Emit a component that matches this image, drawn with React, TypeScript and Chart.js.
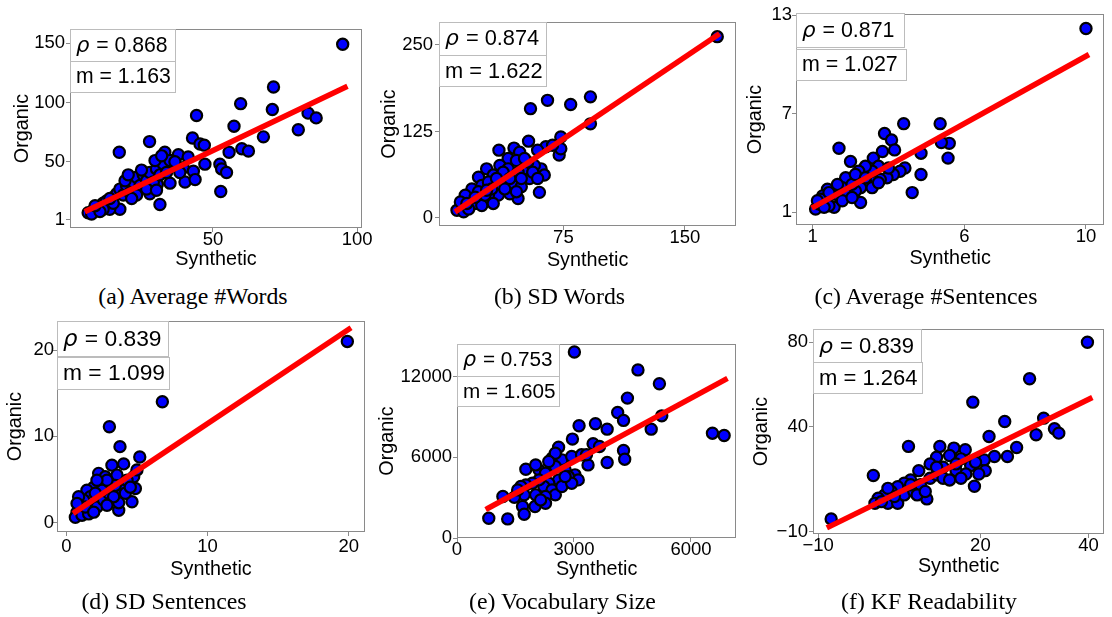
import React, { useEffect, useRef } from 'react';
import { Chart, registerables } from 'chart.js';

Chart.register(...registerables);

// ---------- DATA (Synthetic x, Organic y) ----------
// (a) Average #Words
const avgWordsPoints: number[][] = [
  [95, 149], [71, 113], [59.6, 99], [70.6, 94], [83, 91], [85.8, 87], [79.6, 77], [44.3, 89], [57.3, 80],
  [67.5, 71], [42.9, 70], [28, 67], [45.5, 65], [47, 64], [17.5, 58], [55.6, 58], [60, 61], [62.3, 59],
  [33.3, 58], [38, 56], [41.4, 54], [35.6, 51], [31.6, 50], [33.9, 47], [47.2, 48], [52.4, 48], [53, 44],
  [54.7, 41], [39.7, 45], [43.2, 42], [40.3, 33], [43.8, 35], [35.1, 32], [30.7, 31], [28.1, 23], [52.7, 25],
  [31.6, 14], [17.7, 10], [6.7, 7], [8.4, 9], [10.2, 12], [11.9, 15], [13.1, 17], [14.2, 10], [15.4, 20],
  [16.6, 23], [17.7, 27], [18.9, 22], [20, 30], [21.2, 24], [22.3, 33], [23.5, 37], [24.7, 30], [25.8, 39],
  [27, 34], [28.1, 41], [29.3, 33], [30.4, 44], [31.6, 39], [32.8, 48], [33.9, 41], [35.1, 51], [23.5, 22],
  [27, 27], [15.4, 15], [11.9, 10], [19.5, 34], [25.2, 43], [29.9, 51], [32.2, 55], [36.8, 50], [38.5, 41],
  [30.4, 26], [21.8, 19], [7.9, 6], [10.8, 8], [9.1, 13], [20.6, 39], [14.2, 19],
];
const avgWordsFit: number[][] = [[6.4, 8.9], [95.8, 112.6]];
const avgWordsXTicks = [50, 100];
const avgWordsYTicks = [1, 50, 100, 150];

// (b) SD Words
const sdWordsPoints: number[][] = [
  [170, 262], [54.7, 158], [65.2, 170], [79.5, 164], [91.7, 175], [91.7, 136], [73.4, 117], [72.4, 91],
  [73.4, 100], [53.5, 111], [64.2, 103], [68.3, 105], [35.2, 98], [44.5, 101], [48, 95], [40.9, 86],
  [59.1, 98], [61.2, 71], [63.2, 62], [60.2, 37], [47, 28], [27.6, 71], [31.7, 62], [35.8, 76], [40.9, 71],
  [46, 83], [51, 66], [54.1, 57], [57.1, 76], [22.6, 59], [24.6, 47], [28.7, 52], [34.8, 47], [38.8, 57],
  [43.9, 47], [49, 45], [41.9, 35], [34.8, 33], [18.5, 42], [17.5, 28], [14.4, 33], [20.5, 21], [24.6, 18],
  [28.7, 33], [31.7, 21], [12.4, 18], [9.3, 11], [13.4, 9], [16.5, 13], [11.4, 23], [26.6, 33], [38.8, 42],
  [53, 81], [47, 66], [37.8, 66], [30.7, 42], [22.6, 38], [27.6, 40], [33.7, 57], [41.9, 57], [49, 57],
  [56.1, 66], [51, 86], [59.1, 57], [20.5, 30], [15.4, 21], [46, 38],
];
const sdWordsFit: number[][] = [[9.5, 11], [170, 264]];
const sdWordsXTicks = [75, 150];
const sdWordsYTicks = [0, 125, 250];

// (c) Average #Sentences
const avgSentPoints: number[][] = [
  [10, 12.2], [4, 6.4], [5.2, 6.4], [5.5, 5.2], [5.24, 5.25], [5.46, 4.3], [3.37, 5.8], [3.6, 5.4], [3.7, 4.8],
  [3.3, 4.7], [3.0, 4.3], [1.87, 4.9], [4.57, 4.6], [2.25, 4.1], [4.57, 3.3], [4.28, 2.2], [4.04, 3.7],
  [3.88, 3.5], [3.66, 3.3], [3.45, 3.1], [3.23, 3.0], [3.01, 2.9], [2.79, 2.7], [2.58, 2.5], [3.17, 3.8],
  [2.96, 3.5], [2.74, 3.8], [2.52, 3.5], [2.58, 1.6], [2.41, 2.3], [2.2, 2.9], [2.09, 3.1], [1.98, 2.5],
  [1.76, 2.3], [1.65, 2.1], [1.71, 1.3], [1.49, 2.4], [1.33, 2.0], [1.1, 1.2], [1.22, 1.5], [1.43, 1.7],
  [1.54, 1.4], [1.27, 1.8], [1.87, 2.0], [2.09, 2.1], [2.3, 2.7], [2.41, 3.3], [2.74, 3.1], [2.96, 2.5],
  [3.17, 2.8], [1.82, 2.7], [1.54, 2.2], [1.98, 1.7], [2.3, 1.9], [1.38, 1.3], [1.16, 1.7], [3.5, 3.7],
];
const avgSentFit: number[][] = [[1.05, 1.33], [10.02, 10.53]];
const avgSentXTicks = [1, 6, 10];
const avgSentYTicks = [1, 7, 13];

// (d) SD Sentences
const sdSentPoints: number[][] = [
  [19.9, 21], [6.8, 14], [3.05, 11.1], [3.8, 8.8], [5.2, 7.6], [4.06, 6.8], [3.23, 6.65], [4.77, 5.3],
  [4.89, 3.95], [4.65, 2.4], [3.71, 1.43], [3.71, 2.3], [2.29, 5.7], [2.76, 5.3], [3.59, 5.5], [4.3, 4.9],
  [2.41, 4.5], [3.12, 4.1], [3.94, 3.75], [1.94, 4.1], [1.46, 3.75], [1.7, 3.0], [1.23, 2.6], [0.99, 1.8],
  [0.76, 1.2], [0.64, 0.6], [1.11, 0.85], [1.58, 1.0], [2.17, 1.8], [2.64, 2.6], [3.0, 3.4], [3.35, 3.0],
  [4.18, 3.4], [2.53, 3.75], [2.05, 3.4], [0.87, 3.0], [1.35, 1.8], [1.94, 1.2], [2.88, 2.0], [4.53, 4.1],
  [3.47, 4.3], [2.88, 4.9], [5.0, 6.1], [2.17, 4.9], [0.76, 2.2],
];
const sdSentFit: number[][] = [[0.64, 1.23], [20, 22.4]];
const sdSentXTicks = [0, 10, 20];
const sdSentYTicks = [0, 10, 20];

// (e) Vocabulary Size
const vocabPoints: number[][] = [
  [3010, 13840], [4640, 12510], [5190, 11480], [4370, 10410], [4120, 9340], [4270, 8750], [5250, 9090],
  [4980, 8100], [6550, 7800], [6850, 7630], [3130, 8350], [3550, 8500], [3850, 8100], [2960, 7360],
  [3490, 7010], [3655, 6810], [4270, 6510], [4300, 5865], [3850, 5620], [3360, 5440], [2605, 6760],
  [2437, 5940], [2689, 5815], [2941, 6065], [3193, 6190], [1765, 5120], [2101, 5070], [2269, 4820],
  [2521, 5320], [2773, 5070], [3025, 4700], [3109, 4325], [2857, 4570], [2605, 4325], [2353, 4075],
  [2227, 3830], [2101, 4325], [1933, 4075], [1765, 3950], [1639, 3830], [2437, 3580], [2521, 3210],
  [2269, 3085], [2017, 3210], [1723, 3210], [1471, 3035], [1176, 3085], [1681, 2340], [2000, 2340],
  [2269, 2590], [1723, 1765], [1300, 1420], [815, 1470], [2689, 3830], [2941, 4075], [3319, 6190],
  [2521, 6310], [2017, 5440], [1555, 3580], [2143, 2835], [2773, 4570], [2353, 5690],
];
const vocabFit: number[][] = [[798, 2214], [6874, 11779]];
const vocabXTicks = [0, 3000, 6000];
const vocabYTicks = [0, 6000, 12000];

// (f) KF Readability
const kfPoints: number[][] = [
  [39.8, 80], [29.1, 62.7], [18.6, 51.6], [24.5, 42.4], [31.7, 44], [33.7, 39], [34.5, 36.9], [30.3, 36.1],
  [21.6, 35.3], [26.7, 30.1], [25, 25.8], [22.6, 25.8], [20.7, 24.2], [6.7, 30.6], [0.2, 16.8], [-7.6, -3.8],
  [12.5, 30.6], [15.1, 29.8], [17.2, 29], [11.9, 25.5], [14.3, 26.3], [16.4, 24.7], [18.2, 21.5], [20.9, 19.1],
  [18.9, 11.7], [10.1, 5.7], [8.6, 19.1], [10.7, 22.3], [13.1, 20.7], [15.5, 19.1], [17.3, 17.5], [19.7, 17.5],
  [7.1, 14.7], [5.9, 13.1], [4.7, 11.5], [3.5, 9.2], [2.3, 7.6], [1.1, 6], [0.5, 3.6], [2.9, 3.6], [4.7, 3.6],
  [5.9, 7.6], [7.7, 9.2], [8.9, 12.4], [10.7, 15.5], [11.9, 17.1], [13.1, 15.5], [14.3, 14.7], [16.4, 15.5],
  [8.3, 7.6], [9.8, 9.2], [1.7, 4.4], [4.1, 6.8], [2.9, 10.7], [19.1, 23.1], [15.5, 22.3], [11.9, 20.7],
  [7.1, 12.4],
];
const kfFit: number[][] = [[-7.95, -7.45], [40.25, 53.2]];
const kfXTicks = [-10, 20, 40];
const kfYTicks = [-10, 40, 80];

const rhoValues = ['0.868', '0.874', '0.871', '0.839', '0.753', '0.839'];
const slopeValues = ['1.163', '1.622', '1.027', '1.099', '1.605', '1.264'];
const captions = [
  '(a) Average #Words', '(b) SD Words', '(c) Average #Sentences',
  '(d) SD Sentences', '(e) Vocabulary Size', '(f) KF Readability',
];
const xRanges = [[0.4, 101.7], [-1.8, 181.7], [0.455, 10.6], [-0.66, 21.15], [0, 7159], [-10.96, 42.9]];
const yRanges = [[-5.8, 161.9], [-11.6, 283.2], [0.225, 13.08], [-1.1, 23.37], [0, 14437], [-10.95, 86.3]];

// ---------- LAYOUT (page pixels) ----------
type Geom = {
  left: number; top: number; cw: number; ch: number;
  plotL: number; plotT: number; plotR: number; plotB: number;
  orgPad: number; synthPad: number; capX: number; capY: number;
  xPad: number; yPad: number;
  box: { w1: number; h1: number; gap: number; w2: number; h2: number; fs: number; dy: number };
};

const geoms: Geom[] = [
  { left: 0, top: 0, cw: 380, ch: 280, plotL: 70, plotT: 29, plotR: 362, plotB: 228, orgPad: 12.75, synthPad: 10.25, capX: 193, capY: 296, xPad: 0, yPad: 1,
    box: { w1: 105, h1: 32.3, gap: 0, w2: 105, h2: 31, fs: 21.2, dy: 0 } },
  { left: 372, top: 0, cw: 372, ch: 280, plotL: 439, plotT: 22, plotR: 740, plotB: 226, orgPad: 7.75, synthPad: 9.25, capX: 559.5, capY: 296, xPad: 0, yPad: 2,
    box: { w1: 107.3, h1: 33.3, gap: 0, w2: 107.3, h2: 31, fs: 21.8, dy: 0 } },
  { left: 742, top: 0, cw: 370, ch: 280, plotL: 796, plotT: 14, plotR: 1106, plotB: 225, orgPad: 3.75, synthPad: 11.75, capX: 926, capY: 296, xPad: 0, yPad: 0,
    box: { w1: 108.3, h1: 34, gap: 1.7, w2: 110, h2: 30.7, fs: 21.4, dy: -1 } },
  { left: 0, top: 305, cw: 380, ch: 280, plotL: 57, plotT: 321, plotR: 365, plotB: 532, orgPad: 5.75, synthPad: 5.75, capX: 164, capY: 601, xPad: 3, yPad: -1,
    box: { w1: 111, h1: 35, gap: 1, w2: 111.7, h2: 32.3, fs: 22.8, dy: 0 } },
  { left: 372, top: 305, cw: 372, ch: 280, plotL: 457, plotT: 344, plotR: 741, plotB: 538, orgPad: 5.75, synthPad: 5.25, capX: 562.5, capY: 601, xPad: 0, yPad: 1,
    box: { w1: 101.7, h1: 31.7, gap: 0.7, w2: 101.7, h2: 30, fs: 20.7, dy: 0 } },
  { left: 742, top: 305, cw: 370, ch: 280, plotL: 813, plotT: 329, plotR: 1111, plotB: 534, orgPad: 9.75, synthPad: 8.25, capX: 929, capY: 601, xPad: 0, yPad: 1,
    box: { w1: 108.3, h1: 33.3, gap: 0, w2: 109.3, h2: 31, fs: 22, dy: 0 } },
];

const panelPoints = [avgWordsPoints, sdWordsPoints, avgSentPoints, sdSentPoints, vocabPoints, kfPoints];
const panelFits = [avgWordsFit, sdWordsFit, avgSentFit, sdSentFit, vocabFit, kfFit];
const panelXTicks = [avgWordsXTicks, sdWordsXTicks, avgSentXTicks, sdSentXTicks, vocabXTicks, kfXTicks];
const panelYTicks = [avgWordsYTicks, sdWordsYTicks, avgSentYTicks, sdSentYTicks, vocabYTicks, kfYTicks];

const SANS = '"Liberation Sans", Arial, sans-serif';
const fmt = (v: number | string) => String(v).replace('-', '\u2212');

const decorPlugin = {
  id: 'panelDecor',
  afterDraw(chart: any, _args: any, opts: any) {
    const { ctx, chartArea: a } = chart;
    ctx.save();
    // frame
    ctx.strokeStyle = '#8a8a8a';
    ctx.lineWidth = 1;
    const L = Math.round(a.left), T = Math.round(a.top), R = Math.round(a.right), B = Math.round(a.bottom);
    ctx.strokeRect(L + 0.5, T + 0.5, R - L - 1, B - T - 1);
    // annotation boxes
    const b = opts.box;
    const drawBox = (y: number, w: number, h: number, italicPart: string, rest: string) => {
      ctx.fillStyle = '#ffffff';
      ctx.fillRect(L, y, w, h);
      ctx.strokeStyle = '#bcbcbc';
      ctx.lineWidth = 1;
      ctx.strokeRect(L + 0.5, Math.round(y) + 0.5, Math.round(w), Math.round(h));
      const base = y + h / 2 + 0.36 * b.fs - 1;
      let x = L + 6;
      ctx.fillStyle = '#000';
      ctx.textBaseline = 'alphabetic';
      ctx.textAlign = 'left';
      if (italicPart) {
        ctx.font = `italic ${b.fs}px "DejaVu Sans", sans-serif`;
        ctx.fillText(italicPart, x, base);
        x += ctx.measureText(italicPart).width + 1;
      }
      ctx.font = `${b.fs}px ${SANS}`;
      ctx.fillText(rest, x, base);
    };
    const y1 = T + b.dy;
    drawBox(y1, b.w1, b.h1, '\u03C1', ' = ' + opts.rho);
    drawBox(y1 + b.h1 + b.gap, b.w2, b.h2, '', 'm = ' + opts.m);
    ctx.restore();
  },
};

function Panel({ idx }: { idx: number }) {
  const ref = useRef<HTMLCanvasElement>(null);
  const g = geoms[idx];
  useEffect(() => {
    const padTop = g.plotT - g.top;
    const padRight = g.left + g.cw - g.plotR;
    const yW = g.plotL - g.left;
    const xH = g.top + g.ch - g.plotB;
    const pts = panelPoints[idx].map(([x, y]) => ({ x, y }));
    const fit = panelFits[idx].map(([x, y]) => ({ x, y }));
    const xt = panelXTicks[idx];
    const yt = panelYTicks[idx];
    const chart = new Chart(ref.current as HTMLCanvasElement, {
      type: 'scatter',
      data: {
        datasets: [
          {
            data: fit, showLine: true, borderColor: '#ff0000', backgroundColor: '#ff0000',
            borderWidth: 5.5, pointRadius: 0, borderCapStyle: 'square', order: 0,
          } as any,
          {
            data: pts, backgroundColor: '#0000ff', borderColor: '#000000', borderWidth: 2.2,
            pointRadius: 5.6, order: 1,
          } as any,
        ],
      },
      options: {
        responsive: false,
        animation: false,
        devicePixelRatio: 1,
        events: [],
        layout: { padding: { left: 0, top: padTop, right: padRight, bottom: 0 } },
        plugins: {
          legend: { display: false },
          tooltip: { enabled: false },
          panelDecor: { box: g.box, rho: rhoValues[idx], m: slopeValues[idx] },
        } as any,
        scales: {
          x: {
            type: 'linear', position: 'bottom',
            min: xRanges[idx][0], max: xRanges[idx][1],
            afterBuildTicks: (s: any) => { s.ticks = xt.map((v) => ({ value: v })); },
            afterFit: (s: any) => { s.height = xH; },
            grid: { drawOnChartArea: false, drawTicks: true, tickLength: 4, color: '#8a8a8a' },
            border: { display: false },
            ticks: {
              padding: g.xPad, color: '#000', autoSkip: false, maxRotation: 0,
              font: { family: SANS, size: 18.5, lineHeight: 0.9 },
              callback: (v: any) => fmt(v),
            },
            title: {
              display: true, text: 'Synthetic', color: '#000',
              font: { family: SANS, size: 19.8, lineHeight: 1 },
              padding: { top: 0, bottom: g.synthPad },
            },
          },
          y: {
            type: 'linear', position: 'left',
            min: yRanges[idx][0], max: yRanges[idx][1],
            afterBuildTicks: (s: any) => { s.ticks = yt.map((v) => ({ value: v })); },
            afterFit: (s: any) => { s.width = yW; },
            grid: { drawOnChartArea: false, drawTicks: true, tickLength: 4, color: '#8a8a8a' },
            border: { display: false },
            ticks: {
              padding: g.yPad, color: '#000', autoSkip: false,
              font: { family: SANS, size: 18.5, lineHeight: 0.9 },
              callback: (v: any) => fmt(v),
            },
            title: {
              display: true, text: 'Organic', color: '#000',
              font: { family: SANS, size: 19.8, lineHeight: 1 },
              padding: { top: g.orgPad, bottom: 0 },
            },
          },
        } as any,
      },
      plugins: [decorPlugin as any],
    });
    return () => chart.destroy();
  }, [idx]);
  return (
    <>
      <canvas
        ref={ref}
        width={g.cw}
        height={g.ch}
        style={{ position: 'absolute', left: g.left, top: g.top, width: g.cw, height: g.ch }}
      />
      <div
        style={{
          position: 'absolute', left: g.capX - 200, top: g.capY - 14, width: 400, height: 28,
          lineHeight: '28px', textAlign: 'center', fontFamily: '"Liberation Serif", "Times New Roman", serif',
          fontSize: 23.8, color: '#000', whiteSpace: 'nowrap',
        }}
      >
        {captions[idx]}
      </div>
    </>
  );
}

export default function App() {
  return (
    <div style={{ position: 'absolute', left: 0, top: 0, width: 1112, height: 617, background: '#fff', overflow: 'hidden' }}>
      {geoms.map((_, i) => (
        <Panel key={i} idx={i} />
      ))}
    </div>
  );
}
